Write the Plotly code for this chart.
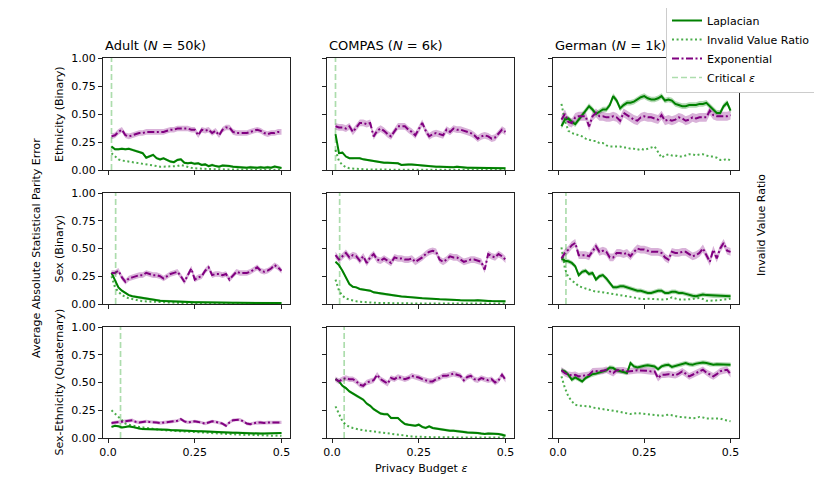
import plotly.graph_objects as go
from plotly.subplots import make_subplots

# privacy budgets on the x axis
eps = [0.01, 0.02, 0.03, 0.04, 0.05, 0.06, 0.07, 0.08, 0.09, 0.10,
       0.11, 0.12, 0.13, 0.14, 0.15, 0.16, 0.17, 0.18, 0.19, 0.20,
       0.21, 0.22, 0.23, 0.24, 0.25, 0.26, 0.27, 0.28, 0.29, 0.30,
       0.31, 0.32, 0.33, 0.34, 0.35, 0.36, 0.37, 0.38, 0.39, 0.40,
       0.41, 0.42, 0.43, 0.44, 0.45, 0.46, 0.47, 0.48, 0.49, 0.50]

datasets = ["Adult", "COMPAS", "German"]
dataset_sizes = ["50k", "6k", "1k"]
attributes = ["Ethnicity (Binary)", "Sex (Binary)", "Sex-Ethnicity (Quaternary)"]

# ---- Ethnicity (Binary) ----
adult_eth_lap = [0.21, 0.185, 0.185, 0.19, 0.185, 0.19, 0.18, 0.17, 0.165, 0.15,
                 0.11, 0.125, 0.135, 0.105, 0.095, 0.105, 0.09, 0.075, 0.07, 0.09,
                 0.095, 0.065, 0.06, 0.065, 0.055, 0.06, 0.045, 0.05, 0.035, 0.045,
                 0.035, 0.03, 0.04, 0.04, 0.035, 0.03, 0.027, 0.025, 0.025, 0.02,
                 0.025, 0.02, 0.02, 0.025, 0.02, 0.025, 0.02, 0.03, 0.025, 0.018]
adult_eth_exp = [0.30, 0.31, 0.34, 0.36, 0.31, 0.30, 0.31, 0.32, 0.33, 0.33,
                 0.34, 0.34, 0.34, 0.34, 0.34, 0.34, 0.35, 0.36, 0.36, 0.37,
                 0.37, 0.37, 0.37, 0.36, 0.36, 0.31, 0.36, 0.35, 0.36, 0.33,
                 0.35, 0.31, 0.36, 0.38, 0.38, 0.34, 0.33, 0.33, 0.33, 0.33,
                 0.34, 0.35, 0.36, 0.35, 0.33, 0.32, 0.33, 0.33, 0.34, 0.34]
adult_eth_inv = [0.15, 0.12, 0.095, 0.085, 0.08, 0.07, 0.065, 0.06, 0.06, 0.05,
                 0.045, 0.04, 0.035, 0.035, 0.03, 0.03, 0.03, 0.03, 0.03, 0.035,
                 0.045, 0.035, 0.025, 0.02, 0.015, 0.012, 0.01, 0.01, 0.008, 0.008,
                 0.006, 0.006, 0.005, 0.005, 0.005, 0.004, 0.004, 0.004, 0.003, 0.003,
                 0.003, 0.003, 0.003, 0.002, 0.002, 0.002, 0.002, 0.002, 0.002, 0.002]

compas_eth_lap = [0.32, 0.15, 0.155, 0.12, 0.105, 0.105, 0.11, 0.105, 0.095, 0.09,
                  0.085, 0.075, 0.075, 0.07, 0.065, 0.065, 0.062, 0.06, 0.06, 0.045,
                  0.05, 0.05, 0.048, 0.045, 0.045, 0.04, 0.035, 0.035, 0.035, 0.03,
                  0.03, 0.028, 0.028, 0.025, 0.025, 0.03, 0.025, 0.022, 0.02, 0.02,
                  0.02, 0.02, 0.022, 0.02, 0.02, 0.018, 0.02, 0.018, 0.017, 0.016]
compas_eth_exp = [0.39, 0.38, 0.38, 0.37, 0.39, 0.34, 0.38, 0.42, 0.42, 0.41,
                  0.42, 0.30, 0.35, 0.37, 0.35, 0.32, 0.30, 0.35, 0.39, 0.39,
                  0.39, 0.36, 0.34, 0.31, 0.36, 0.42, 0.35, 0.30, 0.32, 0.33,
                  0.32, 0.31, 0.36, 0.34, 0.37, 0.36, 0.36, 0.35, 0.34, 0.33,
                  0.31, 0.28, 0.30, 0.31, 0.30, 0.28, 0.29, 0.33, 0.36, 0.34]
compas_eth_inv = [0.18, 0.08, 0.045, 0.025, 0.015, 0.012, 0.009, 0.007, 0.006, 0.005,
                  0.005, 0.004, 0.004, 0.004, 0.003, 0.003, 0.003, 0.003, 0.003, 0.002,
                  0.002, 0.002, 0.002, 0.002, 0.002, 0.002, 0.002, 0.002, 0.002, 0.002,
                  0.001, 0.001, 0.001, 0.001, 0.001, 0.001, 0.001, 0.001, 0.001, 0.001,
                  0.001, 0.001, 0.001, 0.001, 0.001, 0.001, 0.001, 0.001, 0.001, 0.001]

german_eth_lap = [0.39, 0.45, 0.46, 0.43, 0.41, 0.45, 0.49, 0.53, 0.57, 0.54,
                  0.50, 0.52, 0.54, 0.54, 0.58, 0.66, 0.62, 0.55, 0.58, 0.60,
                  0.60, 0.61, 0.63, 0.65, 0.66, 0.64, 0.63, 0.63, 0.64, 0.66,
                  0.62, 0.63, 0.62, 0.59, 0.58, 0.57, 0.57, 0.58, 0.58, 0.58,
                  0.59, 0.59, 0.60, 0.57, 0.54, 0.51, 0.51, 0.57, 0.60, 0.53]
german_eth_exp = [0.45, 0.50, 0.43, 0.42, 0.47, 0.48, 0.48, 0.48, 0.39, 0.48,
                  0.51, 0.48, 0.48, 0.47, 0.47, 0.48, 0.47, 0.44, 0.51, 0.49,
                  0.47, 0.45, 0.44, 0.47, 0.48, 0.47, 0.47, 0.46, 0.45, 0.49,
                  0.44, 0.45, 0.44, 0.45, 0.47, 0.46, 0.44, 0.45, 0.47, 0.46,
                  0.47, 0.47, 0.47, 0.53, 0.49, 0.48, 0.48, 0.48, 0.48, 0.49]
german_eth_inv = [0.59, 0.44, 0.35, 0.33, 0.32, 0.31, 0.30, 0.28, 0.27, 0.26,
                  0.26, 0.24, 0.24, 0.22, 0.21, 0.21, 0.21, 0.21, 0.20, 0.20,
                  0.19, 0.19, 0.18, 0.19, 0.18, 0.19, 0.20, 0.21, 0.16, 0.11,
                  0.13, 0.14, 0.13, 0.13, 0.12, 0.12, 0.13, 0.14, 0.14, 0.13,
                  0.14, 0.14, 0.13, 0.12, 0.12, 0.11, 0.09, 0.09, 0.10, 0.085]

# ---- Sex (Binary) ----
adult_sex_lap = [0.28, 0.22, 0.15, 0.12, 0.10, 0.08, 0.07, 0.065, 0.055, 0.05,
                 0.045, 0.04, 0.037, 0.035, 0.03, 0.028, 0.026, 0.025, 0.024, 0.022,
                 0.02, 0.019, 0.018, 0.017, 0.016, 0.016, 0.015, 0.015, 0.014, 0.014,
                 0.013, 0.013, 0.012, 0.012, 0.012, 0.011, 0.011, 0.011, 0.01, 0.01,
                 0.01, 0.01, 0.009, 0.009, 0.009, 0.009, 0.008, 0.008, 0.008, 0.008]
adult_sex_exp = [0.28, 0.28, 0.30, 0.24, 0.20, 0.23, 0.24, 0.25, 0.26, 0.26,
                 0.28, 0.27, 0.26, 0.26, 0.25, 0.23, 0.25, 0.27, 0.28, 0.29,
                 0.25, 0.20, 0.26, 0.32, 0.22, 0.24, 0.25, 0.30, 0.33, 0.26,
                 0.27, 0.27, 0.26, 0.27, 0.22, 0.26, 0.29, 0.28, 0.28, 0.28,
                 0.29, 0.31, 0.33, 0.30, 0.29, 0.30, 0.32, 0.35, 0.33, 0.30]
adult_sex_inv = [0.25, 0.15, 0.11, 0.08, 0.065, 0.05, 0.045, 0.035, 0.03, 0.025,
                 0.023, 0.021, 0.019, 0.017, 0.015, 0.014, 0.013, 0.012, 0.011, 0.01,
                 0.009, 0.009, 0.008, 0.008, 0.007, 0.007, 0.006, 0.006, 0.006, 0.005,
                 0.005, 0.005, 0.005, 0.004, 0.004, 0.004, 0.004, 0.004, 0.003, 0.003,
                 0.003, 0.003, 0.003, 0.003, 0.003, 0.003, 0.003, 0.003, 0.003, 0.003]

compas_sex_lap = [0.38, 0.35, 0.30, 0.24, 0.18, 0.155, 0.15, 0.135, 0.13, 0.125,
                  0.12, 0.105, 0.10, 0.092, 0.088, 0.082, 0.08, 0.075, 0.072, 0.068,
                  0.066, 0.062, 0.06, 0.058, 0.056, 0.052, 0.05, 0.05, 0.048, 0.045,
                  0.042, 0.042, 0.04, 0.038, 0.036, 0.036, 0.034, 0.032, 0.03, 0.03,
                  0.032, 0.034, 0.03, 0.028, 0.028, 0.026, 0.027, 0.025, 0.024, 0.024]
compas_sex_exp = [0.44, 0.40, 0.43, 0.46, 0.42, 0.44, 0.43, 0.39, 0.43, 0.37,
                  0.42, 0.45, 0.40, 0.39, 0.41, 0.39, 0.37, 0.42, 0.41, 0.41,
                  0.40, 0.40, 0.41, 0.38, 0.40, 0.42, 0.45, 0.47, 0.48, 0.47,
                  0.40, 0.38, 0.40, 0.43, 0.42, 0.42, 0.40, 0.38, 0.39, 0.40,
                  0.40, 0.39, 0.38, 0.31, 0.45, 0.43, 0.42, 0.45, 0.43, 0.40]
compas_sex_inv = [0.22, 0.12, 0.075, 0.05, 0.04, 0.03, 0.025, 0.02, 0.017, 0.014,
                  0.012, 0.011, 0.01, 0.009, 0.008, 0.008, 0.007, 0.007, 0.006, 0.006,
                  0.006, 0.005, 0.005, 0.005, 0.005, 0.005, 0.004, 0.004, 0.004, 0.004,
                  0.004, 0.004, 0.004, 0.004, 0.004, 0.004, 0.004, 0.004, 0.004, 0.004,
                  0.004, 0.004, 0.004, 0.004, 0.004, 0.004, 0.004, 0.004, 0.004, 0.004]

german_sex_lap = [0.41, 0.39, 0.385, 0.37, 0.34, 0.26, 0.29, 0.30, 0.27, 0.28,
                  0.22, 0.25, 0.26, 0.23, 0.19, 0.15, 0.15, 0.16, 0.16, 0.15,
                  0.14, 0.13, 0.12, 0.12, 0.11, 0.10, 0.10, 0.11, 0.12, 0.12,
                  0.10, 0.10, 0.11, 0.11, 0.10, 0.10, 0.09, 0.085, 0.075, 0.07,
                  0.08, 0.085, 0.08, 0.078, 0.075, 0.072, 0.07, 0.07, 0.07, 0.07]
german_sex_exp = [0.41, 0.46, 0.49, 0.53, 0.55, 0.44, 0.44, 0.44, 0.43, 0.48,
                  0.52, 0.47, 0.48, 0.47, 0.42, 0.42, 0.46, 0.46, 0.45, 0.46,
                  0.43, 0.47, 0.50, 0.49, 0.49, 0.48, 0.47, 0.47, 0.47, 0.46,
                  0.42, 0.40, 0.47, 0.46, 0.46, 0.47, 0.47, 0.45, 0.43, 0.44,
                  0.46, 0.50, 0.44, 0.38, 0.49, 0.41, 0.50, 0.55, 0.48, 0.47]
german_sex_inv = [0.51, 0.32, 0.24, 0.21, 0.19, 0.16, 0.15, 0.14, 0.13, 0.12,
                  0.11, 0.11, 0.105, 0.10, 0.10, 0.09, 0.085, 0.08, 0.075, 0.07,
                  0.065, 0.06, 0.05, 0.045, 0.045, 0.048, 0.048, 0.045, 0.042, 0.04,
                  0.042, 0.045, 0.06, 0.05, 0.04, 0.04, 0.04, 0.042, 0.045, 0.052,
                  0.054, 0.045, 0.03, 0.03, 0.03, 0.032, 0.035, 0.04, 0.045, 0.048]

# ---- Sex-Ethnicity (Quaternary) ----
adult_sexeth_lap = [0.10, 0.11, 0.105, 0.095, 0.10, 0.105, 0.10, 0.09, 0.085, 0.08,
                    0.08, 0.08, 0.08, 0.08, 0.078, 0.075, 0.075, 0.072, 0.07, 0.066,
                    0.065, 0.068, 0.065, 0.062, 0.06, 0.06, 0.06, 0.058, 0.056, 0.055,
                    0.052, 0.05, 0.05, 0.05, 0.05, 0.048, 0.048, 0.046, 0.045, 0.045,
                    0.045, 0.042, 0.04, 0.04, 0.04, 0.042, 0.04, 0.042, 0.044, 0.045]
adult_sexeth_exp = [0.135, 0.14, 0.14, 0.15, 0.15, 0.155, 0.16, 0.145, 0.14, 0.145,
                    0.15, 0.145, 0.145, 0.14, 0.135, 0.14, 0.14, 0.145, 0.15, 0.155,
                    0.17, 0.15, 0.14, 0.145, 0.15, 0.145, 0.14, 0.13, 0.14, 0.15,
                    0.145, 0.14, 0.13, 0.11, 0.14, 0.16, 0.165, 0.165, 0.15, 0.13,
                    0.125, 0.135, 0.14, 0.14, 0.135, 0.14, 0.14, 0.14, 0.14, 0.14]
adult_sexeth_inv = [0.25, 0.22, 0.19, 0.16, 0.13, 0.12, 0.11, 0.105, 0.10, 0.095,
                    0.09, 0.085, 0.08, 0.078, 0.075, 0.07, 0.068, 0.066, 0.065, 0.062,
                    0.06, 0.058, 0.056, 0.055, 0.05, 0.048, 0.046, 0.045, 0.042, 0.04,
                    0.04, 0.038, 0.038, 0.036, 0.034, 0.032, 0.03, 0.03, 0.028, 0.03,
                    0.028, 0.026, 0.025, 0.024, 0.025, 0.02, 0.022, 0.02, 0.022, 0.02]

compas_sexeth_lap = [0.53, 0.51, 0.47, 0.45, 0.42, 0.40, 0.38, 0.36, 0.345, 0.31,
                     0.29, 0.26, 0.24, 0.22, 0.215, 0.215, 0.18, 0.18, 0.18, 0.15,
                     0.126, 0.12, 0.115, 0.11, 0.12, 0.10, 0.09, 0.105, 0.09, 0.084,
                     0.08, 0.075, 0.07, 0.066, 0.066, 0.064, 0.06, 0.055, 0.05, 0.05,
                     0.045, 0.045, 0.04, 0.036, 0.04, 0.04, 0.04, 0.036, 0.03, 0.021]
compas_sexeth_exp = [0.53, 0.51, 0.53, 0.54, 0.53, 0.53, 0.51, 0.48, 0.47, 0.50,
                     0.51, 0.52, 0.57, 0.53, 0.51, 0.49, 0.54, 0.53, 0.55, 0.54,
                     0.53, 0.54, 0.56, 0.55, 0.545, 0.53, 0.52, 0.51, 0.51, 0.53,
                     0.54, 0.56, 0.56, 0.57, 0.58, 0.57, 0.56, 0.52, 0.55, 0.56,
                     0.53, 0.52, 0.54, 0.53, 0.52, 0.53, 0.50, 0.52, 0.57, 0.525]
compas_sexeth_inv = [0.285, 0.22, 0.15, 0.12, 0.10, 0.09, 0.08, 0.075, 0.07, 0.066,
                     0.06, 0.055, 0.05, 0.045, 0.04, 0.038, 0.036, 0.032, 0.028, 0.024,
                     0.02, 0.016, 0.014, 0.012, 0.01, 0.009, 0.008, 0.008, 0.007, 0.007,
                     0.006, 0.006, 0.006, 0.006, 0.005, 0.005, 0.005, 0.005, 0.005, 0.005,
                     0.005, 0.005, 0.005, 0.005, 0.005, 0.005, 0.005, 0.005, 0.005, 0.005]

german_sexeth_lap = [0.61, 0.60, 0.57, 0.525, 0.545, 0.53, 0.51, 0.54, 0.56, 0.575,
                     0.58, 0.59, 0.60, 0.61, 0.635, 0.63, 0.61, 0.60, 0.59, 0.585,
                     0.675, 0.645, 0.635, 0.645, 0.65, 0.655, 0.65, 0.645, 0.62, 0.645,
                     0.655, 0.66, 0.64, 0.65, 0.66, 0.665, 0.675, 0.665, 0.66, 0.67,
                     0.675, 0.68, 0.675, 0.665, 0.66, 0.665, 0.665, 0.665, 0.665, 0.66]
german_sexeth_exp = [0.61, 0.585, 0.57, 0.565, 0.57, 0.555, 0.56, 0.565, 0.57, 0.60,
                     0.60, 0.60, 0.605, 0.615, 0.60, 0.585, 0.61, 0.61, 0.61, 0.60,
                     0.60, 0.605, 0.61, 0.61, 0.61, 0.605, 0.60, 0.60, 0.54, 0.57,
                     0.57, 0.575, 0.57, 0.565, 0.58, 0.60, 0.58, 0.555, 0.57, 0.585,
                     0.60, 0.615, 0.59, 0.57, 0.555, 0.575, 0.60, 0.61, 0.615, 0.575]
german_sexeth_inv = [0.555, 0.45, 0.375, 0.33, 0.30, 0.29, 0.29, 0.29, 0.285, 0.275,
                     0.27, 0.27, 0.265, 0.26, 0.255, 0.245, 0.24, 0.235, 0.228, 0.222,
                     0.216, 0.22, 0.225, 0.22, 0.216, 0.215, 0.21, 0.205, 0.20, 0.20,
                     0.205, 0.21, 0.205, 0.195, 0.19, 0.19, 0.185, 0.18, 0.178, 0.18,
                     0.19, 0.185, 0.175, 0.175, 0.175, 0.18, 0.175, 0.165, 0.16, 0.15]

# critical epsilon per attribute (None = not shown)
critical_adult = [0.01, 0.022, 0.036]
critical_compas = [0.01, 0.022, 0.035]
critical_german = [None, 0.023, None]

# half-width of the shaded bands, per dataset then attribute
lap_band = [[0.012, 0.01, 0.01], [0.01, 0.01, 0.012], [0.025, 0.02, 0.02]]
exp_band = [[0.025, 0.025, 0.015], [0.03, 0.03, 0.025], [0.04, 0.035, 0.03]]

lap = [[adult_eth_lap, compas_eth_lap, german_eth_lap],
       [adult_sex_lap, compas_sex_lap, german_sex_lap],
       [adult_sexeth_lap, compas_sexeth_lap, german_sexeth_lap]]
expo = [[adult_eth_exp, compas_eth_exp, german_eth_exp],
        [adult_sex_exp, compas_sex_exp, german_sex_exp],
        [adult_sexeth_exp, compas_sexeth_exp, german_sexeth_exp]]
inv = [[adult_eth_inv, compas_eth_inv, german_eth_inv],
       [adult_sex_inv, compas_sex_inv, german_sex_inv],
       [adult_sexeth_inv, compas_sexeth_inv, german_sexeth_inv]]
critical = [critical_adult, critical_compas, critical_german]

GREEN = "#008000"
PURPLE = "#800080"
INV_COLOR = "rgba(0,140,0,0.7)"
CRIT_COLOR = "rgba(0,150,0,0.32)"
FONT = "DejaVu Sans"

W, H = 822, 493
OFF = 8  # page margin around the plot div
col_px = [(103, 290), (327, 514), (553, 739)]
row_px = [(58, 170), (193, 304), (327, 438)]


def px(x):
    return (x - OFF) / W


def py(y):
    return 1 - (y - OFF) / H


fig = make_subplots(rows=3, cols=3)


def band(x, y, w):
    up = [v + w for v in y]
    lo = [max(v - w, 0) for v in y]
    return x + x[::-1], up + lo[::-1]


for r in range(3):
    for c in range(3):
        first = (r == 0 and c == 0)
        bx, by = band(eps, lap[r][c], lap_band[c][r])
        fig.add_trace(go.Scatter(x=bx, y=by, fill="toself", mode="lines",
                                 line=dict(width=0), fillcolor="rgba(0,128,0,0.3)",
                                 showlegend=False, hoverinfo="skip"), row=r + 1, col=c + 1)
        bx, by = band(eps, expo[r][c], exp_band[c][r])
        fig.add_trace(go.Scatter(x=bx, y=by, fill="toself", mode="lines",
                                 line=dict(width=0), fillcolor="rgba(128,0,128,0.3)",
                                 showlegend=False, hoverinfo="skip"), row=r + 1, col=c + 1)
        fig.add_trace(go.Scatter(x=eps, y=lap[r][c], mode="lines", name="Laplacian",
                                 line=dict(color=GREEN, width=2), legendrank=1,
                                 showlegend=first), row=r + 1, col=c + 1)
        fig.add_trace(go.Scatter(x=eps, y=inv[r][c], mode="lines", name="Invalid Value Ratio",
                                 line=dict(color=INV_COLOR, width=2, dash="2px,2.6px"), legendrank=2,
                                 showlegend=first), row=r + 1, col=c + 1)
        fig.add_trace(go.Scatter(x=eps, y=expo[r][c], mode="lines", name="Exponential",
                                 line=dict(color=PURPLE, width=2, dash="7px,2.5px,2px,2.5px"),
                                 legendrank=3, showlegend=first), row=r + 1, col=c + 1)
        ce = critical[c][r]
        if ce is not None:
            fig.add_trace(go.Scatter(x=[ce, ce], y=[0, 1], mode="lines", name="Critical <i>ε</i>",
                                     line=dict(color=CRIT_COLOR, width=1.7, dash="6px,3px"),
                                     legendrank=4, showlegend=first), row=r + 1, col=c + 1)

        n = r * 3 + c + 1
        sfx = "" if n == 1 else str(n)
        x0, x1 = col_px[c]
        y0, y1 = row_px[r]
        axis_common = dict(showline=True, linecolor="#222", linewidth=1, mirror=True,
                           ticks="outside", ticklen=4, tickwidth=1, tickcolor="#222",
                           showgrid=False, zeroline=False, automargin=False,
                           tickfont=dict(size=11, color="black", family=FONT))
        fig.layout["xaxis" + sfx].update(
            domain=[px(x0), px(x1)], range=[-0.0145, 0.5245],
            tickvals=[0, 0.25, 0.5], ticktext=["0.0", "0.25", "0.5"],
            showticklabels=(r == 2), **axis_common)
        fig.layout["yaxis" + sfx].update(
            domain=[py(y1), py(y0)], range=[0, 1],
            tickvals=[0, 0.25, 0.5, 0.75, 1.0],
            ticktext=["0.00", "0.25", "0.50", "0.75", "1.00"],
            showticklabels=(c == 0), **axis_common)


def note(text, x, y, angle=0, size=11, xanchor="center"):
    return dict(text=text, x=px(x), y=py(y), xref="paper", yref="paper",
                xanchor=xanchor, yanchor="middle", textangle=angle, showarrow=False,
                font=dict(size=size, color="black", family=FONT))


annotations = []
for c in range(3):
    annotations.append(note(f"{datasets[c]} (<i>N</i> = {dataset_sizes[c]})",
                            col_px[c][0], 46, size=13, xanchor="left"))
for r in range(3):
    annotations.append(note(attributes[r], 59, (row_px[r][0] + row_px[r][1]) / 2, angle=-90))
annotations.append(note("Average Absolute Statistical Parity Error", 36, 248, angle=-90))
annotations.append(note("Invalid Value Ratio", 762, 225, angle=-90))
annotations.append(note("Privacy Budget <i>ε</i>", (col_px[1][0] + col_px[1][1]) / 2, 468))

fig.update_layout(
    width=W, height=H,
    margin=dict(l=0, r=0, t=0, b=0, autoexpand=False),
    paper_bgcolor="white", plot_bgcolor="white",
    font=dict(family=FONT, size=11, color="black"),
    annotations=annotations,
    legend=dict(x=px(816), y=py(5), xanchor="right", yanchor="top",
                bgcolor="white", bordercolor="#cccccc", borderwidth=1,
                font=dict(size=11, family=FONT), tracegroupgap=0,
                itemwidth=30),
)

fig.write_html("out.html")
